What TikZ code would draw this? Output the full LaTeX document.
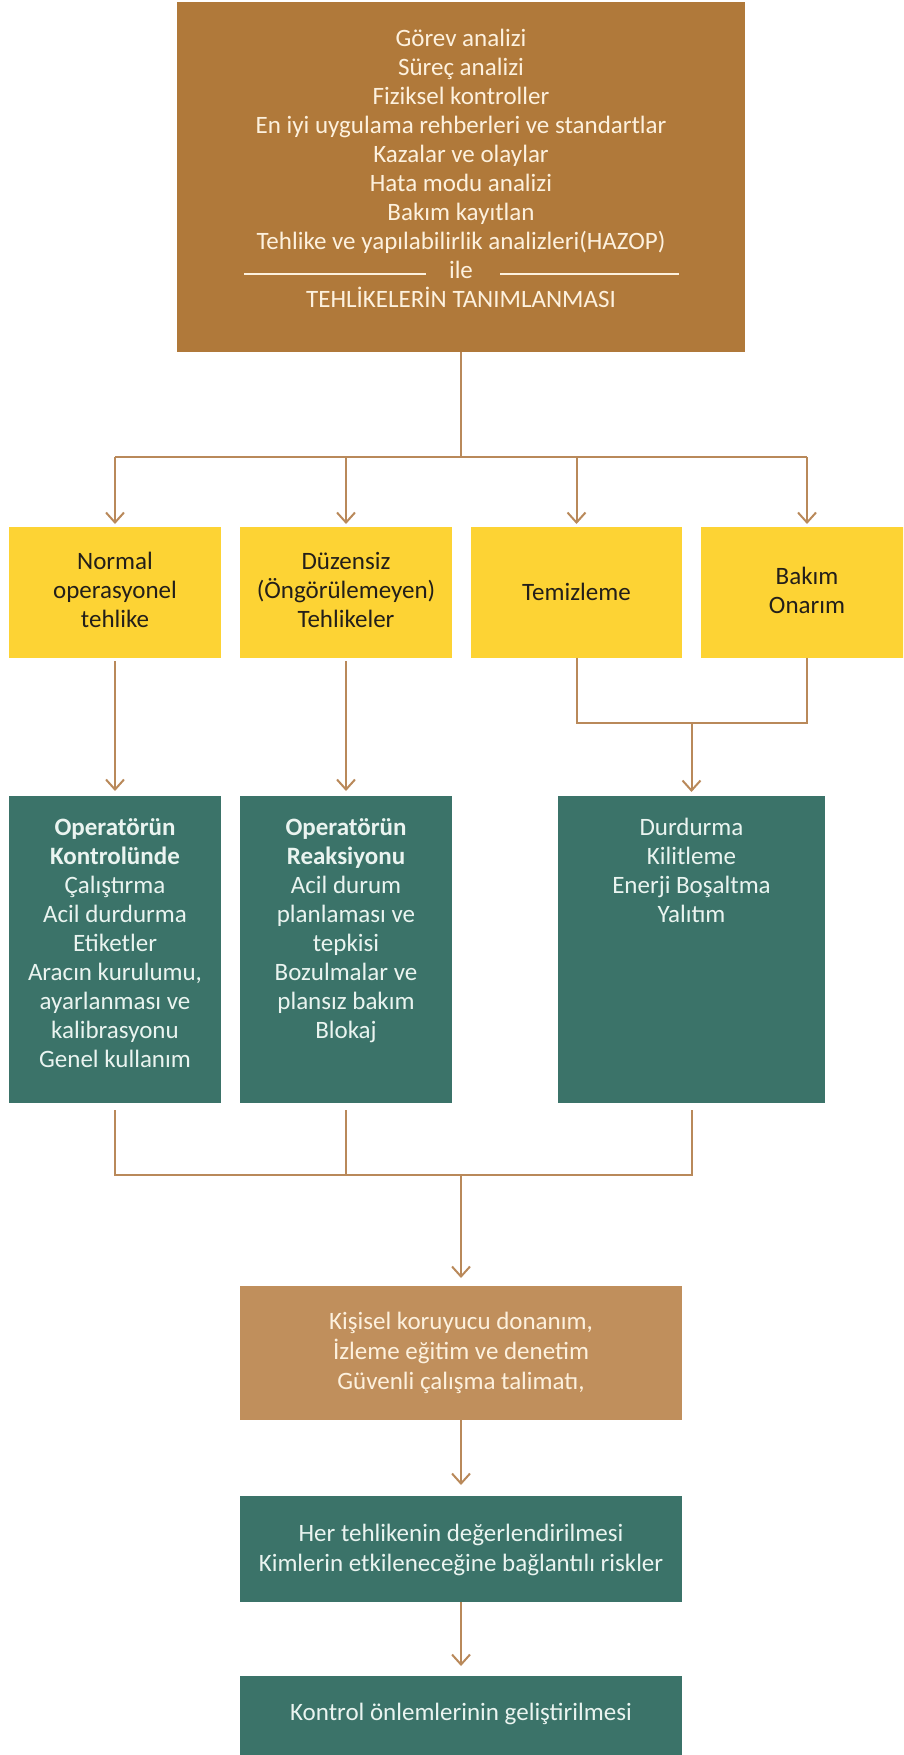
\documentclass[tikz,border=0pt]{standalone}
\usepackage{fontspec}
\setmainfont{Carlito}
\usetikzlibrary{arrows.meta}

\definecolor{hazbrown}{HTML}{B0793A}
\definecolor{ppetan}{HTML}{C08F5C}
\definecolor{hazyellow}{HTML}{FDD334}
\definecolor{ctrlteal}{HTML}{3B7369}
\definecolor{linktan}{HTML}{B9895A}
\definecolor{cream}{HTML}{FDF1DE}
\definecolor{mint}{HTML}{EAF4F0}
\definecolor{ink}{HTML}{231F1A}

\tikzset{
  panel/.style={draw=none, inner sep=0pt, outer sep=0pt},
  topbox/.style={panel, fill=hazbrown, minimum width=568pt, minimum height=350pt},
  ybox/.style={panel, fill=hazyellow, minimum width=212pt, minimum height=131pt},
  tbox/.style={panel, fill=ctrlteal},
  boxtext/.style={inner sep=0pt, align=center, font=\fontsize{25}{29}\selectfont},
  link/.style={draw=linktan, line width=2pt},
  arrow/.style={link, -{Straight Barb[length=10pt, width=18pt, line width=2pt]}}
}

\begin{document}
\begin{tikzpicture}[x=1pt, y=-1pt]
\useasboundingbox (0,0) rectangle (903,1755);
\clip (0,0) rectangle (903,1755);

% boxes
\node[topbox] (top) at (461,177) {};
\node[ybox] (y1) at (115,592.5) {};
\node[ybox] (y2) at (346,592.5) {};
\node[ybox, minimum width=211pt] (y3) at (576.5,592.5) {};
\node[ybox] (y4) at (807,592.5) {};
\node[tbox, minimum width=212pt, minimum height=307pt] (t1) at (115,949.5) {};
\node[tbox, minimum width=212pt, minimum height=307pt] (t2) at (346,949.5) {};
\node[tbox, minimum width=267pt, minimum height=307pt] (t3) at (691.5,949.5) {};
\node[panel, fill=ppetan, minimum width=442pt, minimum height=134pt] (ppe) at (461,1353) {};
\node[tbox, minimum width=442pt, minimum height=106pt] (risk) at (461,1549) {};
\node[tbox, minimum width=442pt, minimum height=84pt] (dev) at (461,1718) {};

% texts
\node[boxtext, text=cream, anchor=north] (toptxt) at (461,29)
  {Görev analizi\\Süreç analizi\\Fiziksel kontroller\\En iyi uygulama rehberleri ve standartlar\\Kazalar ve olaylar\\Hata modu analizi\\Bakım kayıtlan\\Tehlike ve yapılabilirlik analizleri(HAZOP)\\ile\\TEHLİKELERİN TANIMLANMASI};
\draw[cream, line width=1.2pt] (244,274) -- (426,274);
\draw[cream, line width=1.2pt] (500,274) -- (679,274);

\node[boxtext, text=ink, anchor=north] (y1txt) at (115,552) {Normal\\operasyonel\\tehlike};
\node[boxtext, text=ink, anchor=north] (y2txt) at (346,552) {Düzensiz\\(Öngörülemeyen)\\Tehlikeler};
\node[boxtext, text=ink] (y3txt) at (576.5,592) {Temizleme};
\node[boxtext, text=ink, anchor=north] (y4txt) at (807,567) {Bakım\\Onarım};

\node[boxtext, text=mint, anchor=north] (t1txt) at (115,818)
  {\textbf{Operatörün}\\\textbf{Kontrolünde}\\Çalıştırma\\Acil durdurma\\Etiketler\\Aracın kurulumu,\\ayarlanması ve\\kalibrasyonu\\Genel kullanım};
\node[boxtext, text=mint, anchor=north] (t2txt) at (346,818)
  {\textbf{Operatörün}\\\textbf{Reaksiyonu}\\Acil durum\\planlaması ve\\tepkisi\\Bozulmalar ve\\plansız bakım\\Blokaj};
\node[boxtext, text=mint, anchor=north] (t3txt) at (691.5,818)
  {Durdurma\\Kilitleme\\Enerji Boşaltma\\Yalıtım};

\node[boxtext, text=cream, anchor=north, font=\fontsize{25}{30}\selectfont] (ppetxt) at (461,1312)
  {Kişisel koruyucu donanım,\\İzleme eğitim ve denetim\\Güvenli çalışma talimatı,};
\node[boxtext, text=mint, anchor=north, font=\fontsize{25}{30}\selectfont] (risktxt) at (461,1524)
  {Her tehlikenin değerlendirilmesi\\Kimlerin etkileneceğine bağlantılı riskler};
\node[boxtext, text=mint] (devtxt) at (461,1714) {Kontrol önlemlerinin geliştirilmesi};

% connectors
\draw[link] (top.south) -- ++(0,105) coordinate (split);
\draw[link] (y1.north |- split) -- (y4.north |- split);
\foreach \b in {y1,y2,y3,y4}
  \draw[arrow] (\b.north |- split) -- ([yshift=3pt]\b.north);

\draw[arrow] ([yshift=-3pt]y1.south) -- ([yshift=5pt]t1.north);
\draw[arrow] ([yshift=-3pt]y2.south) -- ([yshift=5pt]t2.north);
\draw[link] (y3.south) -- ++(0,65) coordinate (mjoin) -| (y4.south);
\draw[arrow] (t3.north |- mjoin) -- ([yshift=4pt]t3.north);

\draw[link] ([yshift=-7pt]t1.south) -- ++(0,65) coordinate (bjoin) -| ([yshift=-7pt]t3.south);
\draw[link] ([yshift=-7pt]t2.south) -- (t2.south |- bjoin);
\draw[arrow] (ppe.north |- bjoin) -- ([yshift=8pt]ppe.north);
\draw[arrow] (ppe.south) -- ([yshift=11pt]risk.north);
\draw[arrow] (risk.south) -- ([yshift=10pt]dev.north);
\end{tikzpicture}
\end{document}
